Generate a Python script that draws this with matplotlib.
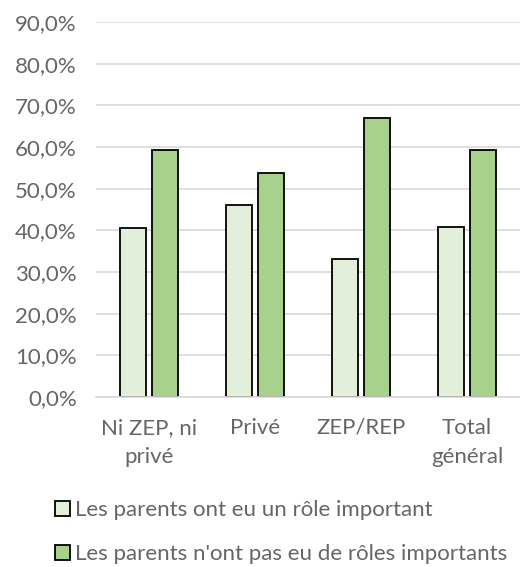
import matplotlib.pyplot as plt
import numpy as np
from matplotlib.ticker import FuncFormatter

plt.rcParams['font.family'] = ['Lato', 'DejaVu Sans']

categories = ["Ni ZEP, ni\nprivé", "Privé", "ZEP/REP", "Total\ngénéral"]
role_important = [40.6, 46.2, 33.1, 40.8]
pas_role = [59.4, 53.8, 66.9, 59.2]
legend_labels = ["Les parents ont eu un rôle important",
                 "Les parents n'ont pas eu de rôles importants"]

gray = "#666666"

fig = plt.figure(figsize=(5.2, 5.67), dpi=100)
ax = fig.add_axes([0.185, 0.300, 0.815, 0.661])

x = np.arange(len(categories))
w = 0.245
b1 = ax.bar(x - 0.03 - w / 2, role_important, w, color="#E2EFDA",
            edgecolor="black", linewidth=1.3, label=legend_labels[0], zorder=3)
b2 = ax.bar(x + 0.03 + w / 2, pas_role, w, color="#A9D18E",
            edgecolor="black", linewidth=1.3, label=legend_labels[1], zorder=3)

ax.set_ylim(0, 90)
ax.set_xlim(-0.5, 3.5)
ax.set_yticks(np.arange(0, 91, 10))
ax.yaxis.set_major_formatter(FuncFormatter(lambda v, p: f"{v:.1f}%".replace(".", ",")))
ax.grid(axis="y", color="#D9D9D9", linewidth=1.2, zorder=0)
for s in ["top", "right", "left"]:
    ax.spines[s].set_visible(False)
ax.spines["bottom"].set_color("#D9D9D9")
ax.spines["bottom"].set_linewidth(1.2)
ax.spines["bottom"].set_zorder(4)
ax.tick_params(axis="both", length=0, labelsize=16, labelcolor=gray)
ax.tick_params(axis="y", pad=14)
ax.tick_params(axis="x", pad=15)
ax.set_xticks(x)
ax.set_xticklabels(categories, linespacing=1.55)

fig.legend(handles=[b1, b2], loc="upper left", bbox_to_anchor=(0.088, 0.133),
           frameon=False, fontsize=16, labelcolor=gray, handlelength=0.7,
           handleheight=0.7, handletextpad=0.2, labelspacing=1.08,
           borderaxespad=0)

fig.savefig("out.png", dpi=100)
